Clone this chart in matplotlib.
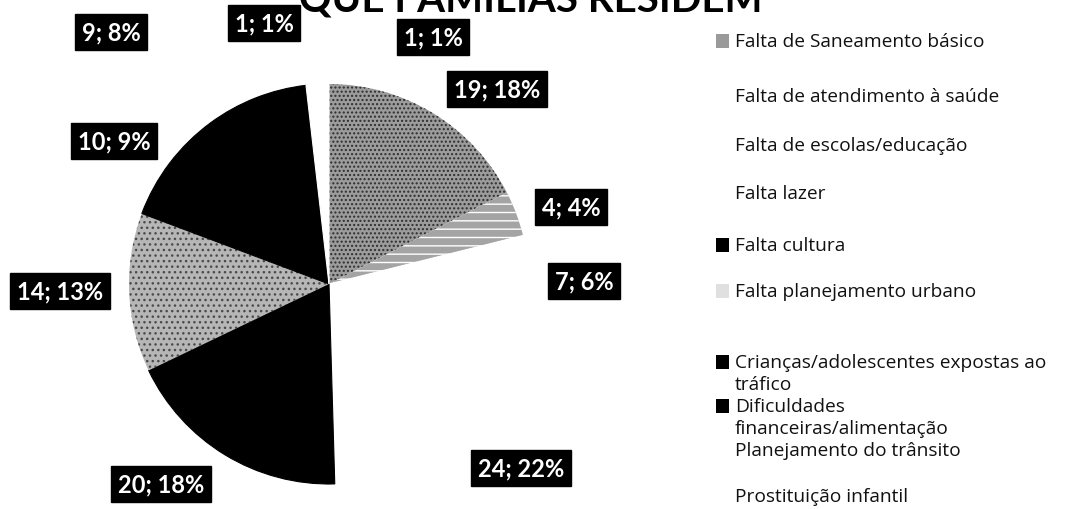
import matplotlib.pyplot as plt
from matplotlib import font_manager
from matplotlib.patches import Rectangle

# data
categories = ['Falta de Saneamento básico', 'Falta de atendimento à saúde',
    'Falta de escolas/educação', 'Falta lazer', 'Falta cultura',
    'Falta planejamento urbano',
    'Crianças/adolescentes expostas ao\ntráfico',
    'Dificuldades\nfinanceiras/alimentação', 'Planejamento do trânsito',
    'Prostituição infantil']
counts = [19, 4, 7, 24, 20, 14, 10, 9, 1, 1]
percents = [18, 4, 6, 22, 18, 13, 9, 8, 1, 1]
title = 'QUE FAMÍLIAS RESIDEM'

# style (scanned greyscale look)
slice_face = ['#9c9c9c', '#a4a4a4', 'white', 'white', 'black', '#b6b6b6',
    'black', 'black', 'white', 'white']
slice_hatch = ['....', '--', None, None, None, '...', None, None, None, None]
slice_hcol = ['#2e2e2e', 'white', 'white', 'white', 'black', '#4a4a4a',
    'black', 'black', 'white', 'white']
legend_face = ['#9a9a9a', 'white', 'white', 'white', 'black', '#e0e0e0',
    'black', 'black', 'white', 'white']

# label box centres and legend rows, in pixels from top-left
label_xy = [(497, 90), (571, 208), (584, 282), (521, 469), (161, 485),
    (60, 292), (114, 142), (111, 33), (264, 24), (433, 38)]
legend_y = [42, 97, 146, 194, 246, 292, 363, 407, 451, 497]
line_step = 22

W, H = 1075, 510
names = {f.name for f in font_manager.fontManager.ttflist}
label_font = 'Lato' if 'Lato' in names else 'DejaVu Sans'
legend_font = 'Open Sans' if 'Open Sans' in names else 'DejaVu Sans'

fig = plt.figure(figsize=(W / 100, H / 100), dpi=100)
fig.patch.set_facecolor('white')

# pie: radius 200 px, centre at (329, 285)
cx, cy, r = 329, 285, 200
half = 1.1 * r
ax = fig.add_axes([(cx - half) / W, (H - cy - half) / H, 2 * half / W,
    2 * half / H])
wedges, _ = ax.pie(counts, colors=slice_face, startangle=90, counterclock=False)
for w, fc, hatch, hc in zip(wedges, slice_face, slice_hatch, slice_hcol):
    if hatch:
        w.set_hatch(hatch)
        w.set_edgecolor(hc)
        w.set_linewidth(0)
    else:
        # same-colour edge hides the seam between adjacent black slices
        w.set_edgecolor(fc)
        w.set_linewidth(0.8)
ax.set_xlim(-1.1, 1.1)
ax.set_ylim(-1.1, 1.1)
ax.axis('off')

# overlay in pixel coordinates for labels, legend and title
ov = fig.add_axes([0, 0, 1, 1])
ov.set_xlim(0, W)
ov.set_ylim(H, 0)
ov.axis('off')
ov.patch.set_alpha(0)

for (x, y), c, p in zip(label_xy, counts, percents):
    ov.text(x, y, f'{c}; {p}%', ha='center', va='center', color='white',
        fontsize=17, fontweight='bold', family=label_font,
        bbox=dict(boxstyle='square,pad=0.28', fc='black', ec='black'))

for name, y, fc in zip(categories, legend_y, legend_face):
    if fc != 'white':
        ov.add_patch(Rectangle((716, y - 7), 13, 14, fc=fc, ec='none'))
    for k, line in enumerate(name.split('\n')):
        ov.text(735, y + line_step * k, line, ha='left', va='center',
            fontsize=13.8, family=legend_font, color='#111111')

# title line is cut by the top edge in the original scan
ov.text(531, 13, title, ha='center', va='baseline', fontsize=29,
    fontweight='bold', family=label_font, color='black', clip_on=False)

fig.savefig('out.png', dpi=100)
